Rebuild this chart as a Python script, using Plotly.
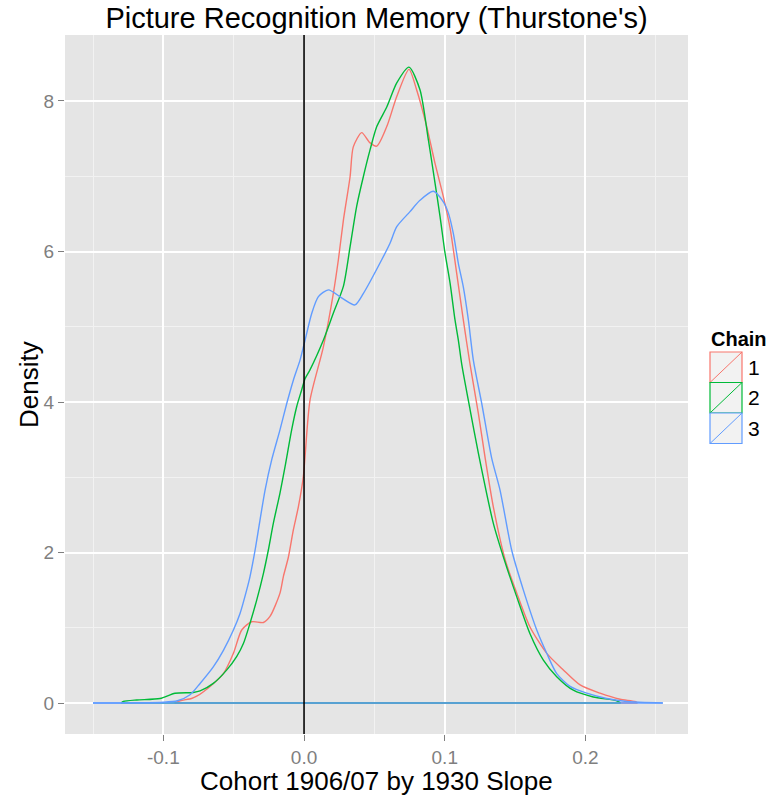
import plotly.graph_objects as go

# ---- data ----
chains = ["1", "2", "3"]
colors = ["#F8766D", "#00BA38", "#619CFF"]

red_x = [-0.092, -0.088, -0.080, -0.0763, -0.0668, -0.0573, -0.0502, -0.0443, -0.0372, -0.0289,
         -0.0242, -0.0171, -0.0147, -0.0111, -0.0076, -0.0040, -0.0005, 0.0007, 0.0043, 0.0137,
         0.0208, 0.0244, 0.0280, 0.0327, 0.0350, 0.0410, 0.0465, 0.0517, 0.0588, 0.0659,
         0.0746, 0.0800, 0.0872, 0.0931, 0.0990, 0.1038, 0.1085, 0.1132, 0.1180, 0.1239,
         0.1286, 0.1345, 0.1430, 0.1512, 0.1606, 0.1725, 0.1843, 0.1962, 0.2104, 0.2246,
         0.2352, 0.2370]
red_y = [0.0, 0.03, 0.06, 0.09, 0.22, 0.39, 0.66, 0.97, 1.08, 1.07,
         1.15, 1.46, 1.68, 1.94, 2.30, 2.61, 3.01, 3.27, 4.03, 4.73,
         5.44, 5.89, 6.42, 6.99, 7.39, 7.58, 7.45, 7.40, 7.66, 8.06,
         8.42, 8.15, 7.66, 7.17, 6.73, 6.31, 5.71, 5.09, 4.50, 3.85,
         3.27, 2.61, 1.90, 1.46, 1.01, 0.66, 0.44, 0.24, 0.13, 0.05,
         0.02, 0.0]

green_x = [-0.130, -0.1284, -0.1189, -0.1023, -0.0917, -0.0787, -0.0739, -0.0645, -0.0549, -0.0478,
           -0.0431, -0.0384, -0.0336, -0.0289, -0.0254, -0.0218, -0.0171, -0.0135, -0.0088, -0.0052,
           -0.0017, 0.0007, 0.0043, 0.0137, 0.0208, 0.0280, 0.0327, 0.0374, 0.0421, 0.0469,
           0.0517, 0.0588, 0.0659, 0.0746, 0.0824, 0.0884, 0.0931, 0.0967, 0.1002, 0.1038,
           0.1073, 0.1097, 0.1121, 0.1180, 0.1239, 0.1345, 0.1417, 0.1512, 0.1606, 0.1701,
           0.1796, 0.1914, 0.2056, 0.2222, 0.2250]
green_y = [0.0, 0.02, 0.04, 0.06, 0.13, 0.14, 0.16, 0.26, 0.44, 0.62,
           0.79, 1.06, 1.37, 1.72, 2.03, 2.39, 2.79, 3.14, 3.63, 3.94,
           4.16, 4.31, 4.43, 4.82, 5.18, 5.54, 6.06, 6.60, 6.99, 7.35,
           7.66, 7.92, 8.24, 8.45, 8.15, 7.48, 6.91, 6.46, 5.98, 5.58,
           5.09, 4.82, 4.50, 3.90, 3.32, 2.39, 1.94, 1.41, 0.92, 0.57,
           0.35, 0.17, 0.08, 0.03, 0.0]

blue_x = [-0.150, -0.100, -0.090, -0.0810, -0.0739, -0.0645, -0.0573, -0.0502, -0.0455, -0.0408,
          -0.0384, -0.0348, -0.0313, -0.0277, -0.0230, -0.0171, -0.0123, -0.0076, -0.0028, 0.0007,
          0.0055, 0.0102, 0.0173, 0.0270, 0.0362, 0.0421, 0.0552, 0.0611, 0.0659, 0.0753,
          0.0824, 0.0919, 0.0990, 0.1026, 0.1061, 0.1097, 0.1132, 0.1168, 0.1203, 0.1263,
          0.1334, 0.1393, 0.1476, 0.1559, 0.1654, 0.1725, 0.1796, 0.1891, 0.2009, 0.2151,
          0.2294, 0.2550]
blue_y = [0.0, 0.01, 0.03, 0.11, 0.26, 0.48, 0.70, 0.97, 1.19, 1.50,
          1.68, 2.03, 2.43, 2.83, 3.23, 3.63, 3.98, 4.29, 4.56, 4.82,
          5.18, 5.40, 5.49, 5.38, 5.29, 5.44, 5.89, 6.11, 6.33, 6.53,
          6.68, 6.80, 6.66, 6.51, 6.24, 5.84, 5.53, 5.09, 4.56, 3.98,
          3.25, 2.83, 2.03, 1.50, 0.97, 0.66, 0.39, 0.22, 0.13, 0.06,
          0.02, 0.0]

series_x = [red_x, green_x, blue_x]
series_y = [red_y, green_y, blue_y]

x_tickvals = [-0.1, 0.0, 0.1, 0.2]
x_ticktext = ["-0.1", "0.0", "0.1", "0.2"]
x_minor = [-0.15, -0.05, 0.05, 0.15, 0.25]
y_tickvals = [0, 2, 4, 6, 8]
y_ticktext = ["0", "2", "4", "6", "8"]
y_minor = [1, 3, 5, 7]

title = "Picture Recognition Memory (Thurstone's)"
x_title = "Cohort 1906/07 by 1930 Slope"
y_title = "Density"
legend_title = "Chain"

FONT = "Liberation Sans, Arial, sans-serif"
W, H = 778, 802
L, R, T, B = 65, 688, 35, 734  # panel pixel edges


def px(xp):
    return (xp - L) / (R - L)


def py(yp):
    return (B - yp) / (B - T)


fig = go.Figure()
for name, col, xs, ys in zip(chains, colors, series_x, series_y):
    # density curve
    fig.add_trace(go.Scatter(x=xs, y=ys, mode="lines", name=name,
                             line=dict(color=col, width=1.4, shape="spline", smoothing=0.7),
                             showlegend=False, hoverinfo="skip"))
    # baseline of the density outline
    fig.add_trace(go.Scatter(x=[xs[0], xs[-1]], y=[0, 0], mode="lines", name=name,
                             line=dict(color=col, width=1.4),
                             showlegend=False, hoverinfo="skip"))

shapes = [dict(type="line", xref="x", yref="paper", x0=0, x1=0, y0=0, y1=1,
               line=dict(color="black", width=1.6), layer="above")]
annotations = [
    dict(text=x_title, xref="paper", yref="paper", x=0.5, y=py(781),
         showarrow=False, font=dict(size=26, color="black", family=FONT),
         xanchor="center", yanchor="middle"),
    dict(text=y_title, xref="paper", yref="paper", x=px(29), y=py(385),
         showarrow=False, textangle=-90, font=dict(size=26, color="black", family=FONT),
         xanchor="center", yanchor="middle"),
    dict(text="<b>" + legend_title + "</b>", xref="paper", yref="paper", x=px(709), y=py(339),
         showarrow=False, font=dict(size=20, color="black", family=FONT),
         xanchor="left", yanchor="middle"),
]

key_top = 352
key_h = 30.5
for i, (name, col) in enumerate(zip(chains, colors)):
    y0 = key_top + i * key_h
    y1 = y0 + key_h
    shapes.append(dict(type="rect", xref="paper", yref="paper",
                       x0=px(710), x1=px(742), y0=py(y1), y1=py(y0),
                       fillcolor="#F2F2F2", line=dict(color=col, width=1.2)))
    shapes.append(dict(type="line", xref="paper", yref="paper",
                       x0=px(710), x1=px(742), y0=py(y1), y1=py(y0),
                       line=dict(color=col, width=1.0)))
    annotations.append(dict(text=name, xref="paper", yref="paper", x=px(746), y=py((y0 + y1) / 2),
                            showarrow=False, font=dict(size=21, color="black", family=FONT),
                            xanchor="left", yanchor="middle"))

fig.update_layout(
    width=W, height=H,
    margin=dict(l=L, r=W - R, t=T, b=H - B),
    paper_bgcolor="white",
    plot_bgcolor="#E5E5E5",
    font=dict(family=FONT),
    title=dict(text=title, x=0.5, xref="paper", xanchor="center",
               y=1 - 18 / H, yref="container", yanchor="middle",
               font=dict(size=29, color="black", family=FONT)),
    shapes=shapes,
    annotations=annotations,
    showlegend=False,
)
fig.update_xaxes(range=[-0.1699, 0.2729], tickvals=x_tickvals, ticktext=x_ticktext,
                 showgrid=True, gridcolor="white", gridwidth=1.6, zeroline=False,
                 ticks="outside", ticklen=6, tickcolor="#7F7F7F", tickwidth=1.2,
                 tickfont=dict(size=19, color="#7F7F7F", family=FONT),
                 showline=False,
                 minor=dict(tickvals=x_minor, showgrid=True, gridcolor="#F2F2F2", gridwidth=0.8, ticks=""))
fig.update_yaxes(range=[-0.412, 8.877], tickvals=y_tickvals, ticktext=y_ticktext,
                 showgrid=True, gridcolor="white", gridwidth=1.6, zeroline=False,
                 ticks="outside", ticklen=6, tickcolor="#7F7F7F", tickwidth=1.2,
                 tickfont=dict(size=19, color="#7F7F7F", family=FONT),
                 showline=False,
                 minor=dict(tickvals=y_minor, showgrid=True, gridcolor="#F2F2F2", gridwidth=0.8, ticks=""))

fig.write_html("out.html")
